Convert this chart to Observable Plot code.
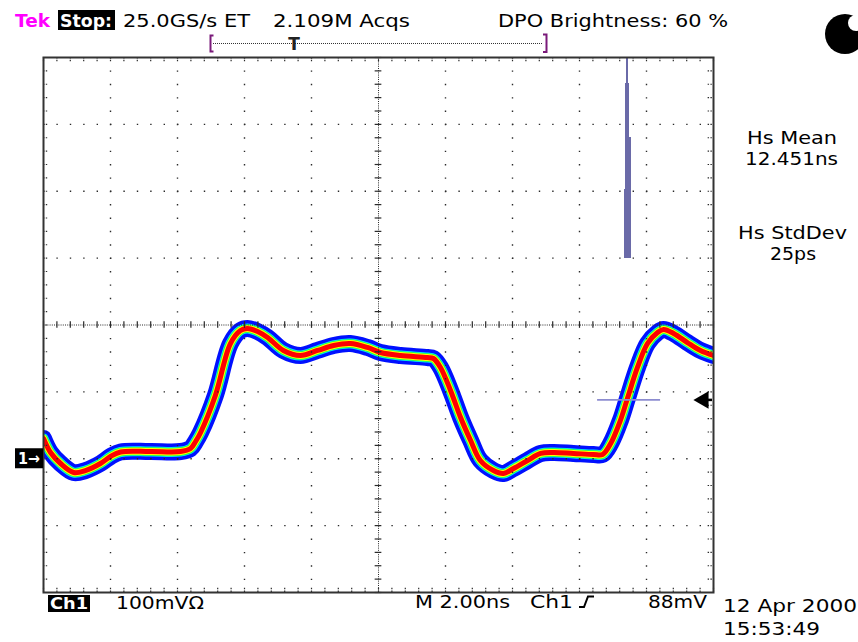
<!DOCTYPE html>
<html>
<head>
<meta charset="utf-8">
<script src="https://cdn.jsdelivr.net/npm/d3@7"></script>
<script src="https://cdn.jsdelivr.net/npm/@observablehq/plot@0.6"></script>
<style>
  html, body { margin: 0; padding: 0; background: #ffffff; }
  #wrap { position: relative; width: 858px; height: 642px; overflow: hidden; background: #ffffff; }
  #wrap > svg { position: absolute; left: 0; top: 0; }
</style>
</head>
<body>
<div id="wrap"></div>
<script>
// ---- Data (time in ns from left edge of screen, voltage in mV above Ch1 ground) ----
const timeNs = [0, 0.21, 0.51, 0.90, 1.25, 1.70, 2.00, 2.30, 3.19, 4.09, 4.39, 4.54, 4.69, 5.13, 5.58, 5.88, 6.09, 6.39, 6.69, 7.16, 7.67, 8.18, 8.66, 9.16, 9.67, 10.06, 10.66, 11.46, 11.64, 11.85, 12.15, 12.45, 12.75, 13.04, 13.43, 13.73, 14.03, 14.45, 14.84, 15.22, 15.82, 16.42, 16.69, 16.93, 17.22, 17.43, 17.73, 18.03, 18.33, 18.51, 18.81, 19.22, 19.61, 20.00];
const voltsMv = [30.3, 9.3, -7.1, -20.6, -17.6, -7.1, 3.4, 10.1, 10.8, 10.8, 15.3, 25.8, 39.3, 94.6, 172.3, 191.8, 194.8, 190.3, 181.3, 161.9, 154.4, 161.9, 169.4, 172.3, 166.4, 158.9, 154.4, 151.4, 149.9, 136.5, 102.1, 61.7, 27.3, -2.6, -17.6, -22.1, -14.6, -2.6, 7.9, 9.3, 7.9, 6.4, 6.4, 22.8, 57.2, 90.1, 136.5, 172.3, 188.8, 193.3, 187.3, 173.8, 161.9, 154.4];

// Horizontal (time) histogram: bin start (ns) and relative count (% of max)
const histStartNs = [17.343, 17.373, 17.403, 17.433, 17.463, 17.493, 17.522];
const histCounts  = [34, 87, 100, 100, 87, 60, 60];
const histBinNs = 0.03;
const histBaseMv = 300;     // histogram window: top three divisions
const histSpanMv = 300;

const triggerLevelMv = 88;
const cursorSpanNs = [16.54, 18.42];

// Graticule: 10 x 2.00 ns, 8 x 100 mV
const xDomain = [0, 20];
const yDomain = [-200, 600];
const xMajor = d3.range(2, 20, 2).filter(d => d !== 10);
const yMajor = d3.range(-100, 600, 100).filter(d => d !== 200);
const xMinor = d3.range(0, 20.0001, 0.4);
const yMinor = d3.range(-200, 600.0001, 20);
const xCenter = 10, yCenter = 200;

// ---- Build tables ----
const wave = timeNs.map((t, i) => ({t, v: voltsMv[i]}));
const hist = histStartNs.map((s, i) => ({x1: s, x2: s + histBinNs, count: histCounts[i]}));

const layers = [
  ["#0010ff", 17],
  ["#00e8ff", 10],
  ["#20ff40", 8.5],
  ["#ffff00", 7],
  ["#ff0000", 5]
];
const gridColor = "#2a2a2a";

const plot = Plot.plot({
  width: 858,
  height: 642,
  marginLeft: 43,
  marginRight: 145,
  marginTop: 57,
  marginBottom: 50,
  x: {domain: xDomain, axis: null},
  y: {domain: yDomain, axis: null},
  style: {background: "transparent"},
  marks: [
    Plot.rect(hist, {x1: "x1", x2: "x2", y1: histBaseMv, y2: d => histBaseMv + d.count / 100 * histSpanMv,
      insetLeft: -0.4, insetRight: -0.4, fill: "#6a6aa8", shapeRendering: "crispEdges"}),
    ...layers.map(([c, w]) => Plot.line(wave, {x: "t", y: "v", stroke: c, strokeWidth: w, curve: "catmull-rom", strokeLinejoin: "round", clip: true})),
    // major graticule: dots every 1/5 division
    Plot.ruleX(xMajor, {stroke: gridColor, strokeWidth: 1.4, strokeDasharray: "1.4 11.975"}),
    Plot.ruleY(yMajor, {stroke: gridColor, strokeWidth: 1.4, strokeDasharray: "1.4 12"}),
    // center cross lines
    Plot.ruleX([xCenter], {stroke: gridColor, strokeWidth: 1, strokeDasharray: "1 1.2"}),
    Plot.ruleY([yCenter], {stroke: gridColor, strokeWidth: 1, strokeDasharray: "1 1.2"}),
    Plot.ruleX(xMinor, {y1: yCenter - 5, y2: yCenter + 5, stroke: gridColor, strokeWidth: 1.2}),
    Plot.ruleY(yMinor, {x1: xCenter - 0.1, x2: xCenter + 0.1, stroke: gridColor, strokeWidth: 1.2}),
    // edge ticks
    Plot.ruleX(xMinor, {y1: yDomain[1], y2: yDomain[1] - 7, stroke: gridColor, strokeWidth: 1.2, strokeDasharray: "1.4 1.4"}),
    Plot.ruleX(xMinor, {y1: yDomain[0], y2: yDomain[0] + 7, stroke: gridColor, strokeWidth: 1.2, strokeDasharray: "1.4 1.4"}),
    Plot.ruleY(yMinor, {x1: xDomain[0], x2: xDomain[0] + 0.16, stroke: gridColor, strokeWidth: 1.2, strokeDasharray: "1.4 1.4"}),
    Plot.ruleY(yMinor, {x1: xDomain[1] - 0.16, x2: xDomain[1], stroke: gridColor, strokeWidth: 1.2, strokeDasharray: "1.4 1.4"}),
    // histogram source cursor at trigger level
    Plot.ruleY([triggerLevelMv], {x1: cursorSpanNs[0], x2: cursorSpanNs[1], stroke: "#8c8cd0", strokeWidth: 1.6}),
    // trigger level arrow at right edge
    Plot.ruleY([triggerLevelMv], {x1: xDomain[1] - 0.3, x2: xDomain[1] - 0.03, stroke: "black", strokeWidth: 2.5}),
    Plot.dot([triggerLevelMv], {x: xDomain[1], y: d => d, dx: -10, symbol: "triangle", rotate: -90, r: 6.5, fill: "black", stroke: "none"}),
    Plot.frame({stroke: "#333333", strokeWidth: 2})
  ]
});

const wrap = document.getElementById("wrap");
wrap.appendChild(plot);

// ---- Screen annotations (text overlay) ----
const y0px = plot.scale("y").apply(0);
const ov = d3.select(wrap).append("svg")
  .attr("width", 858).attr("height", 642)
  .attr("font-family", "'DejaVu Sans', sans-serif");

const boxes = [
  {x: 58, y: 10, w: 57, h: 20},
  {x: 48, y: 595, w: 42, h: 17},
  {x: 15, y: y0px - 10, w: 28, h: 20}
];
ov.selectAll("rect.box").data(boxes).join("rect")
  .attr("x", d => d.x).attr("y", d => d.y).attr("width", d => d.w).attr("height", d => d.h)
  .attr("fill", "black");

const labels = [
  {t: "Tek", x: 15, y: 27, w: 35, s: 18, fill: "#ff00ff", wt: "bold"},
  {t: "Stop:", x: 60, y: 27, w: 52, s: 17, fill: "white", wt: "bold"},
  {t: "25.0GS/s ET", x: 123, y: 27, w: 127, s: 18, fill: "black"},
  {t: "2.109M Acqs", x: 273, y: 27, w: 137, s: 18, fill: "black"},
  {t: "DPO Brightness: 60 %", x: 498, y: 27, w: 230, s: 18, fill: "black"},
  {t: "Hs Mean", x: 747, y: 144, w: 90, s: 17, fill: "black"},
  {t: "12.451ns", x: 745, y: 164.5, w: 93, s: 17, fill: "black"},
  {t: "Hs StdDev", x: 738, y: 239, w: 109, s: 17, fill: "black"},
  {t: "25ps", x: 770, y: 259.5, w: 46, s: 17, fill: "black"},
  {t: "Ch1", x: 50, y: 609, w: 38, s: 16, fill: "white", wt: "bold"},
  {t: "100mVΩ", x: 116, y: 609, w: 88, s: 18, fill: "black"},
  {t: "M 2.00ns", x: 415, y: 608, w: 95, s: 18, fill: "black"},
  {t: "Ch1", x: 530, y: 608, w: 43, s: 18, fill: "black"},
  {t: "88mV", x: 648, y: 608, w: 59, s: 18, fill: "black"},
  {t: "12 Apr 2000", x: 723, y: 612, w: 134, s: 18, fill: "black"},
  {t: "15:53:49", x: 723, y: 635, w: 97, s: 18, fill: "black"},
  {t: "1→", x: 18, y: y0px + 6, w: 22, s: 16, fill: "white", wt: "bold"}
];
ov.selectAll("text.lab").data(labels).join("text")
  .attr("x", d => d.x).attr("y", d => d.y)
  .attr("textLength", d => d.w).attr("lengthAdjust", "spacingAndGlyphs")
  .attr("font-size", d => d.s).attr("font-weight", d => d.wt || "normal")
  .attr("fill", d => d.fill)
  .text(d => d.t);

// trigger position bar
ov.append("line").attr("x1", 213).attr("x2", 543).attr("y1", 43.5).attr("y2", 43.5)
  .attr("stroke", "#333").attr("stroke-width", 1).attr("stroke-dasharray", "1 1");
ov.append("path").attr("d", "M213.5,35.5 H210.5 V51.5 H213.5").attr("fill", "none").attr("stroke", "#7a1a7a").attr("stroke-width", 2);
ov.append("path").attr("d", "M543,34.5 H546.5 V52 H543").attr("fill", "none").attr("stroke", "#7a1a7a").attr("stroke-width", 2);
ov.append("text").attr("x", 294).attr("y", 50).attr("text-anchor", "middle")
  .attr("font-size", 17).attr("font-weight", "bold").attr("fill", "#222").text("T");

// trigger slope symbol
ov.append("path").attr("d", "M579,607 H584 L588,596.5 H594").attr("fill", "none").attr("stroke", "black").attr("stroke-width", 2);

// status disc (top right)
ov.append("circle").attr("cx", 845).attr("cy", 34).attr("r", 20).attr("fill", "black");
ov.append("circle").attr("cx", 856).attr("cy", 23).attr("r", 8).attr("fill", "white");
</script>
</body>
</html>
